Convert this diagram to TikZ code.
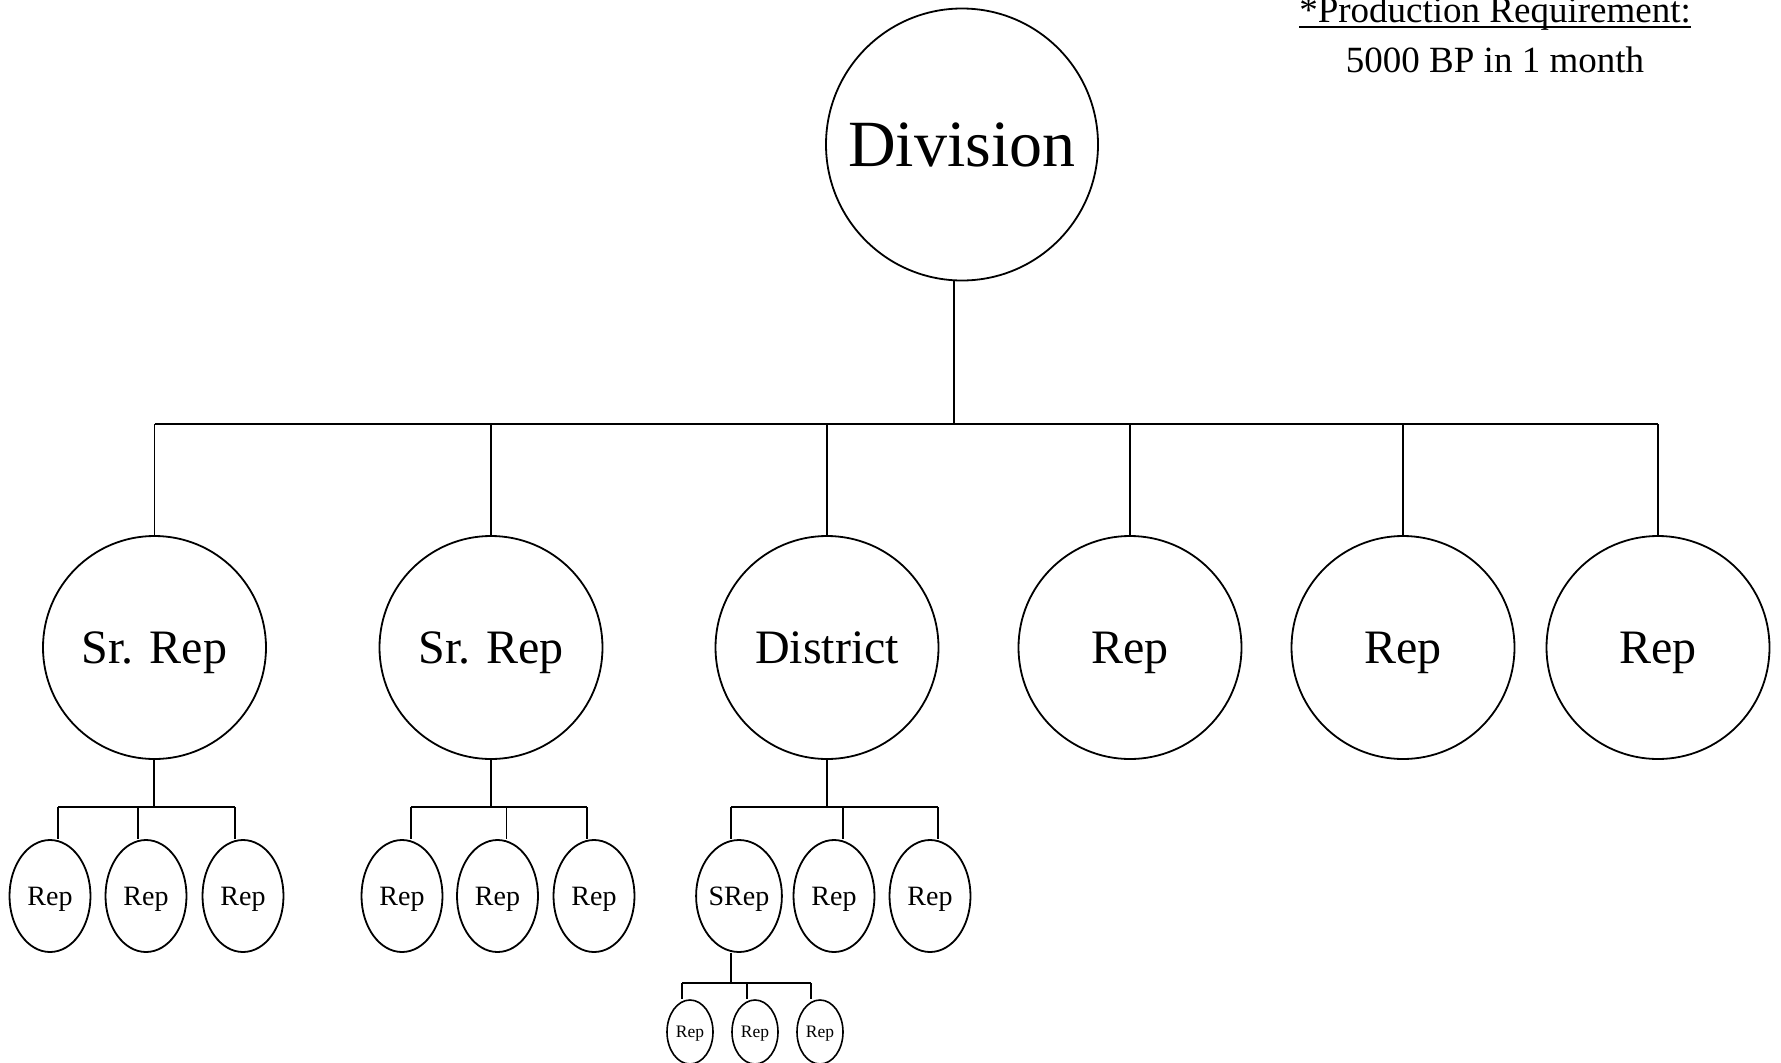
\documentclass[tikz,border=0pt]{standalone}
\usepackage{fontspec}
\setmainfont{Liberation Serif}
\usetikzlibrary{shapes.geometric}
\tikzset{
  ln/.style={line width=1.8pt, black},
  bigc/.style={circle, draw, line width=1.8pt, inner sep=0pt, minimum size=272pt, text depth=0pt, font=\fontsize{66}{70}\selectfont},
  midc/.style={circle, draw, line width=1.8pt, inner sep=0pt, minimum size=223pt, text depth=0pt, font=\fontsize{48}{52}\selectfont},
  smalle/.style={ellipse, draw, line width=1.8pt, inner sep=0pt, minimum width=81pt, minimum height=112pt, text depth=0pt, font=\fontsize{28}{30}\selectfont},
  tinye/.style={ellipse, draw, line width=1.6pt, inner sep=0pt, minimum width=46pt, minimum height=64pt, text depth=0pt, font=\fontsize{17.5}{19}\selectfont},
  note/.style={inner sep=0pt, anchor=base, font=\fontsize{37}{40}\selectfont}
}
\begin{document}
\begin{tikzpicture}[x=1pt,y=-1pt]
\useasboundingbox (0,0) rectangle (1781,1063);
% top level
\node[bigc] (div) at (962,144.5) {Division};
% level 2
\node[midc] (s1) at (154.5,647.5) {Sr. Rep};
\node[midc] (s2) at (491,647.5) {Sr. Rep};
\node[midc] (dist) at (827,647.5) {District};
\node[midc] (r4) at (1130,647.5) {Rep};
\node[midc] (r5) at (1403,647.5) {Rep};
\node[midc] (r6) at (1658,647.5) {Rep};
% level 3
\node[smalle] (a1) at (50,896) {Rep};
\node[smalle] (a2) at (146,896) {Rep};
\node[smalle] (a3) at (243,896) {Rep};
\node[smalle] (b1) at (402,896) {Rep};
\node[smalle] (b2) at (497.5,896) {Rep};
\node[smalle] (b3) at (594,896) {Rep};
\node[smalle] (c1) at (739,896) {SRep};
\node[smalle] (c2) at (834,896) {Rep};
\node[smalle] (c3) at (930,896) {Rep};
% level 4
\node[tinye] (e1) at (690,1032) {Rep};
\node[tinye] (e2) at (755,1032) {Rep};
\node[tinye] (e3) at (820,1032) {Rep};
% note
\node[note] (req) at (1495,22) {*Production Requirement:};
\node[note] (bp) at (1495,72) {5000 BP in 1 month};
\draw[line width=1.5pt] ([yshift=-5pt]req.base west) -- ([yshift=-5pt]req.base east);

% connectors: division to level 2
\coordinate (dv) at (954,424);
\draw[ln] (div.south -| dv) -- (dv);
\draw[ln] (s1.north |- dv) -- (r6.north |- dv);
\foreach \n in {s1,s2,dist,r4,r5,r6}{
  \draw[ln] (\n.north |- dv) -- (\n.north);
}
% group 1
\coordinate (g1) at (154,807);
\coordinate (g1a) at (58,807);
\coordinate (g1b) at (138,807);
\coordinate (g1c) at (235,807);
\draw[ln] (s1.south -| g1) -- (g1);
\draw[ln] (g1a) -- (g1c);
\draw[ln] (g1a) -- (a1.north -| g1a);
\draw[ln] (g1b) -- (a2.north -| g1b);
\draw[ln] (g1c) -- (a3.north -| g1c);
% group 2
\coordinate (g2) at (491,807);
\coordinate (g2a) at (411,807);
\coordinate (g2b) at (506.5,807);
\coordinate (g2c) at (587,807);
\draw[ln] (s2.south -| g2) -- (g2);
\draw[ln] (g2a) -- (g2c);
\draw[ln] (g2a) -- (b1.north -| g2a);
\draw[ln] (g2b) -- (b2.north -| g2b);
\draw[ln] (g2c) -- (b3.north -| g2c);
% group 3
\coordinate (g3) at (827,807);
\coordinate (g3a) at (731,807);
\coordinate (g3b) at (843,807);
\coordinate (g3c) at (938,807);
\draw[ln] (dist.south -| g3) -- (g3);
\draw[ln] (g3a) -- (g3c);
\draw[ln] (g3a) -- (c1.north -| g3a);
\draw[ln] (g3b) -- (c2.north -| g3b);
\draw[ln] (g3c) -- (c3.north -| g3c);
% group 4
\coordinate (g4) at (731,983);
\coordinate (g4a) at (682,983);
\coordinate (g4b) at (747,983);
\coordinate (g4c) at (811,983);
\draw[ln] (c1.south -| g4) -- (g4);
\draw[ln] (g4a) -- (g4c);
\draw[ln] (g4a) -- (e1.north -| g4a);
\draw[ln] (g4b) -- (e2.north -| g4b);
\draw[ln] (g4c) -- (e3.north -| g4c);
\end{tikzpicture}
\end{document}
